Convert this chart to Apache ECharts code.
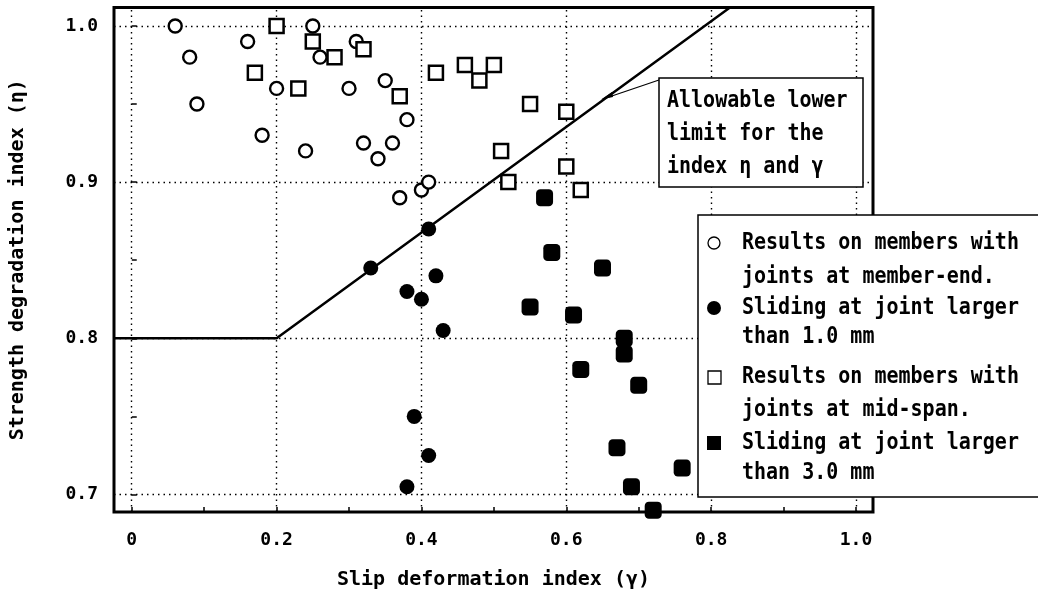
<!DOCTYPE html>
<html><head><meta charset="utf-8">
<script src="https://cdn.jsdelivr.net/npm/echarts@6/dist/echarts.min.js"></script>
<style>html,body{margin:0;padding:0;background:#fff}#c{width:1038px;height:605px}</style>
</head><body><div id="c"></div>
<script>
// ---- data ----
const xLabelValues = [0, 0.2, 0.4, 0.6, 0.8, 1.0];
const xTickValues = [0, 0.1, 0.2, 0.3, 0.4, 0.5, 0.6, 0.7, 0.8, 0.9, 1.0];
const yLabelValues = [0.7, 0.8, 0.9, 1.0];
const yTickValues = [0.7, 0.75, 0.8, 0.85, 0.9, 0.95, 1.0];
const xRange = [-0.0245, 1.0235];
const yRange = [0.6888, 1.0118];

const openCircles = [
  [0.06, 1.0], [0.08, 0.98], [0.09, 0.95], [0.16, 0.99], [0.18, 0.93], [0.20, 0.96],
  [0.24, 0.92], [0.25, 1.0], [0.26, 0.98], [0.30, 0.96], [0.31, 0.99], [0.32, 0.925],
  [0.34, 0.915], [0.35, 0.965], [0.36, 0.925], [0.38, 0.94], [0.37, 0.89], [0.40, 0.895],
  [0.41, 0.90]
];
const filledCircles = [
  [0.41, 0.87], [0.33, 0.845], [0.42, 0.84], [0.38, 0.83], [0.40, 0.825], [0.43, 0.805],
  [0.39, 0.75], [0.41, 0.725], [0.38, 0.705]
];
const openSquares = [
  [0.20, 1.0], [0.17, 0.97], [0.25, 0.99], [0.28, 0.98], [0.32, 0.985], [0.23, 0.96],
  [0.37, 0.955], [0.42, 0.97], [0.46, 0.975], [0.48, 0.965], [0.50, 0.975], [0.55, 0.95],
  [0.60, 0.945], [0.51, 0.92], [0.52, 0.90], [0.60, 0.91], [0.62, 0.895]
];
const filledSquares = [
  [0.57, 0.89], [0.58, 0.855], [0.65, 0.845], [0.55, 0.82], [0.61, 0.815], [0.68, 0.80],
  [0.68, 0.79], [0.62, 0.78], [0.70, 0.77], [0.67, 0.73], [0.76, 0.717], [0.69, 0.705],
  [0.72, 0.69]
];
const limitLine = [[-0.0245, 0.8], [0.2, 0.8], [0.826, 1.0118]];

const xName = 'Slip deformation index (γ)';
const yName = 'Strength degradation index (η)';
const noteLines = ['Allowable lower', 'limit for the', 'index η and γ'];
const legendLines = [
  'Results on members with', 'joints at member-end.',
  'Sliding at joint larger', 'than 1.0 mm',
  'Results on members with', 'joints at mid-span.',
  'Sliding at joint larger', 'than 3.0 mm'
];

// ---- chart ----
const FONT = '"DejaVu Sans Mono", monospace';
const fmt = v => (Math.abs(v) < 1e-9 ? '0' : v.toFixed(1));
const dotted = { color: '#000', width: 1.4, type: [1.5, 4] };

const gridMarks = [];
xLabelValues.forEach(v => gridMarks.push({ xAxis: v }));
yLabelValues.forEach(v => gridMarks.push({ yAxis: v }));

const chart = echarts.init(document.getElementById('c'), null, { renderer: 'canvas' });

const txt = (x, y, s, size) => ({
  type: 'text', x: x, y: y, z: 100, scaleY: 1.15,
  style: { text: s, fill: '#000', font: 'bold ' + size + 'px ' + FONT, verticalAlign: 'middle', textVerticalAlign: 'middle' }
});

const legendY = [243, 277, 308, 337, 377, 410, 443, 473];
const graphics = [
  // annotation box
  { type: 'rect', shape: { x: 659, y: 78, width: 204, height: 109 }, style: { fill: '#fff', stroke: '#000', lineWidth: 1.5 }, z: 90 },
  { type: 'line', shape: { x1: 659, y1: 80, x2: 603, y2: 99 }, style: { stroke: '#000', lineWidth: 1.2 }, z: 90 },
  { type: 'polygon', shape: { points: [[601, 99.5], [612, 92], [613, 97]] }, style: { fill: '#000' }, z: 90 },
  // legend box
  { type: 'rect', shape: { x: 698, y: 215, width: 360, height: 282 }, style: { fill: '#fff', stroke: '#000', lineWidth: 1.5 }, z: 90 },
  { type: 'circle', shape: { cx: 714, cy: 243, r: 6 }, style: { fill: '#fff', stroke: '#000', lineWidth: 1.3 }, z: 100 },
  { type: 'circle', shape: { cx: 714, cy: 308, r: 7 }, style: { fill: '#000' }, z: 100 },
  { type: 'rect', shape: { x: 708, y: 371, width: 13, height: 13 }, style: { fill: '#fff', stroke: '#000', lineWidth: 1.3 }, z: 100 },
  { type: 'rect', shape: { x: 707, y: 436, width: 14, height: 14 }, style: { fill: '#000' }, z: 100 }
];
noteLines.forEach((s, i) => graphics.push(txt(667, [101, 134, 167][i], s, 20)));
legendLines.forEach((s, i) => graphics.push(txt(742, legendY[i], s, 20)));

const option = {
  animation: false,
  backgroundColor: '#fff',
  grid: { left: 113, right: 165, top: 7.5, bottom: 93, show: true, borderColor: '#000', borderWidth: 3, backgroundColor: '#fff' },
  xAxis: {
    type: 'value', min: xRange[0], max: xRange[1],
    name: xName, nameLocation: 'middle', nameGap: 58,
    nameTextStyle: { fontFamily: FONT, fontWeight: 'bold', fontSize: 20, color: '#000' },
    axisLine: { show: false },
    axisTick: { show: true, inside: true, length: 5, lineStyle: { color: '#000', width: 1.5 }, customValues: xTickValues },
    axisLabel: { show: true, customValues: xLabelValues, formatter: fmt, margin: 19, fontFamily: FONT, fontWeight: 'bold', fontSize: 18, color: '#000' },
    splitLine: { show: false }
  },
  yAxis: {
    type: 'value', min: yRange[0], max: yRange[1],
    name: yName, nameLocation: 'middle', nameGap: 86,
    nameTextStyle: { fontFamily: FONT, fontWeight: 'bold', fontSize: 20, color: '#000' },
    axisLine: { show: false },
    axisTick: { show: true, inside: true, length: 5, lineStyle: { color: '#000', width: 1.5 }, customValues: yTickValues },
    axisLabel: { show: true, customValues: yLabelValues, formatter: fmt, margin: 16, fontFamily: FONT, fontWeight: 'bold', fontSize: 18, color: '#000' },
    splitLine: { show: false }
  },
  series: [
    {
      type: 'line', data: limitLine, symbol: 'none', z: 2, silent: true,
      lineStyle: { color: '#000', width: 2.5 },
      markLine: { silent: true, symbol: 'none', label: { show: false }, lineStyle: dotted, data: gridMarks, animation: false }
    },
    { type: 'scatter', data: openCircles, symbol: 'circle', symbolSize: 13, clip: false, z: 5,
      itemStyle: { color: '#fff', borderColor: '#000', borderWidth: 2.4, opacity: 1 } },
    { type: 'scatter', data: openSquares, symbol: 'rect', symbolSize: 14, clip: false, z: 5,
      itemStyle: { color: '#fff', borderColor: '#000', borderWidth: 2.5, opacity: 1 } },
    { type: 'scatter', data: filledCircles, symbol: 'circle', symbolSize: 15, clip: false, z: 5,
      itemStyle: { color: '#000', opacity: 1 } },
    { type: 'scatter', data: filledSquares, symbol: 'roundRect', symbolSize: 17, clip: false, z: 5,
      itemStyle: { color: '#000', opacity: 1 } }
  ],
  graphic: graphics
};
chart.setOption(option);
</script>
</body></html>
